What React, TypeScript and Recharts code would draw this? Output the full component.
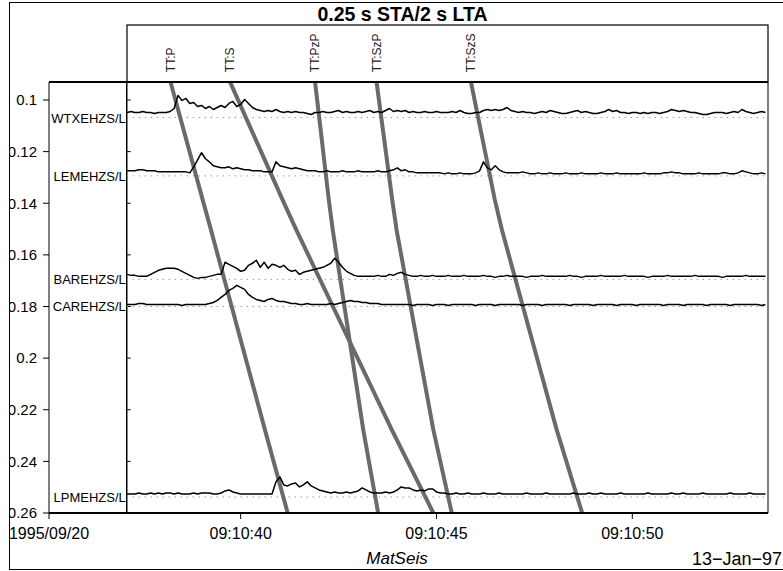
import { LineChart, Line, XAxis, YAxis, ReferenceLine, LabelList } from 'recharts';

const FONT = '"Liberation Sans", Arial, Helvetica, sans-serif';

// time axis (seconds after 09:10:00) and distance axis
const timeAxisStart = 35.105;
const timeAxisEnd = 53.465;
const traceStart = 37.09;
const distMin = 0.09303;
const distMax = 0.26;

const xTicks = [35.105, 40, 45, 50];
const dateLabel = '1995/09/20';
const yTicks = [0.1, 0.12, 0.14, 0.16, 0.18, 0.2, 0.22, 0.24, 0.26];

// waveform sampling
const sampleStart = 37.1;
const sampleStep = 0.1;
const ampGain = 0.00039; // distance units per STA/LTA unit

const stationNames = ['WTXEHZS/L', 'LEMEHZS/L', 'BAREHZS/L', 'CAREHZS/L', 'LPMEHZS/L'];
const stationDistances = [0.1068, 0.1294, 0.1695, 0.18, 0.2538];

const wtxTrace = [
  5, 6, 5, 5, 6, 5, 5, 4, 5, 5,
  5, 6, 9, 22, 17, 19, 14, 15, 11, 12,
  9, 11, 8, 10, 12, 10, 14, 16, 11, 13,
  18, 14, 10, 8, 7, 6, 7, 6, 8, 6,
  5, 6, 5, 6, 5, 5, 4, 3, 5, 5,
  6, 5, 5, 6, 7, 5, 6, 5, 5, 6,
  5, 6, 7, 5, 6, 5, 7, 9, 6, 7,
  6, 7, 5, 6, 5, 5, 6, 5, 5, 6,
  5, 5, 5, 6, 5, 7, 5, 4, 4, 5,
  5, 7, 8, 7, 8, 7, 8, 10, 7, 6,
  5, 6, 5, 5, 4, 5, 6, 5, 7, 6,
  5, 4, 4, 5, 6, 7, 5, 6, 5, 4,
  4, 5, 6, 8, 6, 7, 5, 5, 4, 5,
  5, 4, 5, 4, 5, 5, 4, 5, 6, 8,
  7, 6, 7, 6, 5, 5, 4, 3, 3, 4,
  5, 5, 5, 4, 5, 6, 5, 8, 6, 5,
  4, 5, 6, 5,
];

const lemTrace = [
  5, 5, 5, 6, 6, 5, 5, 5, 4, 4,
  4, 4, 4, 4, 4, 4, 3, 9, 16, 23,
  17, 14, 10, 9, 8, 8, 9, 7, 8, 7,
  6, 6, 5, 5, 5, 4, 4, 4, 14, 10,
  9, 8, 7, 8, 7, 6, 5, 5, 5, 4,
  4, 5, 4, 4, 4, 5, 4, 4, 4, 5,
  4, 4, 4, 4, 5, 4, 4, 5, 6, 8,
  5, 6, 4, 4, 3, 3, 3, 3, 3, 3,
  3, 2, 3, 2, 2, 3, 2, 2, 2, 3,
  5, 14, 8, 6, 10, 6, 4, 3, 3, 3,
  3, 4, 3, 2, 2, 3, 2, 2, 3, 2,
  2, 2, 3, 2, 2, 2, 3, 2, 2, 2,
  2, 3, 2, 2, 2, 3, 2, 2, 2, 2,
  2, 2, 3, 2, 2, 2, 2, 3, 3, 4,
  3, 3, 2, 2, 2, 2, 3, 2, 2, 2,
  2, 2, 3, 3, 2, 2, 3, 5, 4, 3,
  2, 2, 3, 2,
];

const barTrace = [
  5, 4, 4, 3, 3, 3, 5, 7, 9, 10,
  11, 11, 11, 10, 8, 6, 4, 2, 1, 2,
  2, 3, 4, 5, 5, 17, 15, 13, 11, 8,
  9, 14, 16, 19, 12, 17, 11, 15, 14, 12,
  14, 10, 8, 9, 5, 7, 8, 9, 10, 11,
  12, 14, 16, 21, 17, 12, 8, 6, 4, 3,
  3, 3, 3, 3, 4, 3, 3, 5, 4, 6,
  7, 5, 4, 3, 3, 4, 3, 3, 4, 3,
  3, 3, 4, 3, 3, 3, 4, 3, 3, 3,
  3, 4, 3, 3, 2, 3, 3, 4, 3, 3,
  3, 3, 2, 3, 3, 3, 4, 3, 3, 3,
  3, 3, 3, 4, 3, 3, 2, 3, 3, 3,
  3, 4, 3, 3, 3, 3, 3, 4, 3, 3,
  3, 3, 3, 2, 3, 3, 3, 3, 4, 3,
  3, 3, 3, 3, 3, 4, 3, 3, 3, 3,
  3, 3, 2, 3, 3, 3, 3, 3, 4, 3,
  3, 3, 3, 3,
];

const carTrace = [
  2, 2, 2, 3, 3, 2, 2, 2, 2, 2,
  2, 2, 2, 2, 1, 2, 2, 2, 2, 2,
  2, 3, 4, 6, 9, 12, 16, 18, 21, 19,
  17, 12, 9, 7, 6, 5, 7, 8, 6, 5,
  5, 4, 3, 3, 2, 2, 3, 2, 2, 2,
  2, 2, 3, 2, 3, 4, 5, 6, 5, 5,
  4, 4, 3, 3, 3, 2, 2, 2, 2, 2,
  2, 2, 2, 1, 2, 2, 2, 2, 1, 2,
  2, 2, 1, 2, 2, 2, 2, 2, 2, 1,
  2, 2, 2, 2, 1, 2, 2, 2, 2, 2,
  2, 1, 2, 2, 2, 2, 1, 2, 2, 2,
  2, 2, 2, 1, 2, 2, 2, 2, 2, 1,
  2, 2, 2, 2, 2, 1, 2, 2, 2, 2,
  1, 2, 2, 2, 2, 2, 2, 1, 2, 2,
  2, 2, 1, 2, 2, 2, 2, 2, 1, 2,
  2, 2, 2, 2, 1, 2, 2, 2, 2, 2,
  2, 2, 1, 2,
];

const lpmTrace = [
  3, 3, 3, 4, 3, 3, 4, 3, 4, 3,
  4, 4, 3, 4, 3, 3, 3, 4, 3, 4,
  4, 4, 3, 3, 4, 6, 7, 5, 4, 3,
  3, 3, 3, 3, 3, 3, 3, 3, 15, 20,
  12, 11, 13, 14, 10, 12, 15, 11, 9, 7,
  6, 5, 4, 5, 4, 4, 5, 4, 5, 6,
  9, 7, 5, 4, 4, 4, 5, 4, 5, 7,
  10, 9, 9, 7, 6, 7, 6, 8, 8, 5,
  4, 4, 3, 3, 4, 3, 3, 4, 3, 3,
  3, 4, 3, 3, 3, 4, 3, 3, 3, 3,
  3, 3, 4, 3, 3, 3, 3, 4, 3, 3,
  3, 3, 3, 3, 4, 3, 3, 3, 4, 3,
  3, 4, 3, 3, 3, 3, 4, 3, 3, 3,
  3, 3, 3, 4, 3, 3, 3, 3, 3, 4,
  3, 3, 4, 3, 3, 3, 3, 4, 3, 3,
  3, 3, 3, 3, 4, 3, 3, 3, 3, 4,
  3, 3, 3, 3,
];

const stationTraces = [wtxTrace, lemTrace, barTrace, carTrace, lpmTrace];

// travel-time curves: arrival time at each distance
const ttPhases = ['TT:P', 'TT:S', 'TT:PzP', 'TT:SzP', 'TT:SzS'];
const ttDistances = [0.0931, 0.1387, 0.1503, 0.2278, 0.26];
const ttP = [38.21, 39.03, 39.24, 40.62, 41.2];
const ttS = [39.73, 41.07, 41.42, 43.86, 44.92];
const ttPzP = [41.9, 42.25, 42.35, 43.13, 43.51];
const ttSzP = [43.47, 43.87, 43.98, 44.92, 45.39];
const ttSzS = [45.88, 46.49, 46.67, 48.07, 48.72];
const ttTimes = [ttP, ttS, ttPzP, ttSzP, ttSzS];

const traceSeries = stationNames.map((name, k) => ({
  name,
  points: stationTraces[k].map((a, i) => ({
    t: +(sampleStart + i * sampleStep).toFixed(2),
    d: stationDistances[k] - a * ampGain,
  })),
  baseline: [
    { t: traceStart, d: stationDistances[k] },
    { t: timeAxisEnd, d: stationDistances[k] },
  ],
}));

const ttSeries = ttPhases.map((name, k) => ({
  name,
  points: ttDistances.map((d, i) => ({ t: ttTimes[k][i], d })),
}));

const fmtTime = (v: number) => (v === timeAxisStart ? dateLabel : `09:10:${v}`);

function stationLabel(name: string) {
  return (props: any) => {
    if (props.index !== 0) return null;
    return (
      <text x={props.x - 1} y={props.y + 5} textAnchor="end" fontSize={13} fontFamily={FONT} fill="#000">
        {name}
      </text>
    );
  };
}

function phaseLabel(name: string) {
  return (props: any) => {
    if (props.index !== 0) return null;
    const y = props.y - 10;
    return (
      <text
        x={props.x}
        y={y}
        transform={`rotate(-90 ${props.x} ${y})`}
        textAnchor="start"
        dominantBaseline="central"
        fontSize={12}
        fontFamily={FONT}
        fill="#222"
      >
        {name}
      </text>
    );
  };
}

export default function App() {
  return (
    <div style={{ position: 'absolute', left: 0, top: 0, width: 783, height: 571, background: '#fff', overflow: 'hidden' }}>
      <div
        style={{
          position: 'absolute',
          left: 9,
          top: 2,
          width: 790,
          height: 568,
          border: '1px solid #000',
          boxSizing: 'border-box',
          overflow: 'hidden',
        }}
      >
        <div style={{ position: 'absolute', left: -10, top: -3 }}>
          <LineChart width={783} height={571} margin={{ top: 72, right: 9, bottom: 28, left: 9 }}>
            <XAxis
              dataKey="t"
              type="number"
              domain={[timeAxisStart, timeAxisEnd]}
              ticks={xTicks}
              interval={0}
              tickFormatter={fmtTime}
              tickSize={6}
              tickMargin={9}
              height={30}
              axisLine={{ stroke: '#000', strokeWidth: 2 }}
              tickLine={{ stroke: '#000' }}
              tick={{ fill: '#000', fontSize: 16, fontFamily: FONT }}
            />
            <XAxis
              xAxisId="top"
              orientation="top"
              dataKey="t"
              type="number"
              domain={[timeAxisStart, timeAxisEnd]}
              ticks={xTicks}
              interval={0}
              tick={false}
              tickSize={5}
              height={10}
              axisLine={{ stroke: '#000', strokeWidth: 2 }}
              tickLine={{ stroke: '#000' }}
            />
            <YAxis
              type="number"
              domain={[distMin, distMax]}
              reversed
              ticks={yTicks}
              interval={0}
              tickFormatter={(v: number) => String(v)}
              width={40}
              tickSize={6}
              tickMargin={6}
              axisLine={{ stroke: '#000' }}
              tickLine={{ stroke: '#000' }}
              tick={{ fill: '#000', fontSize: 15, fontFamily: FONT }}
            />
            <YAxis
              yAxisId="right"
              orientation="right"
              type="number"
              domain={[distMin, distMax]}
              reversed
              ticks={yTicks}
              interval={0}
              tick={false}
              width={6}
              tickSize={6}
              axisLine={{ stroke: '#000' }}
              tickLine={{ stroke: '#000' }}
            />

            <ReferenceLine x={traceStart} stroke="#000" strokeWidth={1.5} />
            {yTicks.map((v) => (
              <ReferenceLine
                key={`in-${v}`}
                segment={[{ x: traceStart, y: v }, { x: traceStart + 0.1, y: v }]}
                stroke="#000"
              />
            ))}

            {traceSeries.map((s) => (
              <Line
                key={`base-${s.name}`}
                data={s.baseline}
                dataKey="d"
                type="linear"
                stroke="#8a8a8a"
                strokeWidth={1}
                strokeDasharray="1.2 4.8"
                dot={false}
                activeDot={false}
                isAnimationActive={false}
              >
                <LabelList dataKey="d" content={stationLabel(s.name)} />
              </Line>
            ))}

            {ttSeries.map((s) => (
              <Line
                key={s.name}
                data={s.points}
                dataKey="d"
                type="linear"
                stroke="#6a6a6a"
                strokeWidth={4}
                strokeLinejoin="round"
                dot={false}
                activeDot={false}
                isAnimationActive={false}
              >
                <LabelList dataKey="d" content={phaseLabel(s.name)} />
              </Line>
            ))}

            {traceSeries.map((s) => (
              <Line
                key={s.name}
                data={s.points}
                dataKey="d"
                type="linear"
                stroke="#000"
                strokeWidth={1.5}
                strokeLinejoin="round"
                dot={false}
                activeDot={false}
                isAnimationActive={false}
              />
            ))}
          </LineChart>
        </div>
        <svg width={783} height={571} style={{ position: 'absolute', left: -10, top: -3, pointerEvents: 'none' }}>
          <rect x={127} y={25} width={641} height={57} fill="none" stroke="#000" strokeWidth={1.2} />
          <text x={402.5} y={21} textAnchor="middle" fontSize={19.5} fontWeight="bold" fontFamily={FONT} fill="#000">
            0.25 s STA/2 s LTA
          </text>
          <text x={397} y={564} textAnchor="middle" fontSize={17} fontStyle="italic" fontFamily={FONT} fill="#000">
            MatSeis
          </text>
          <text x={782} y={565} textAnchor="end" fontSize={18} fontFamily={FONT} fill="#000">
            13−Jan−97
          </text>
        </svg>
      </div>
    </div>
  );
}
